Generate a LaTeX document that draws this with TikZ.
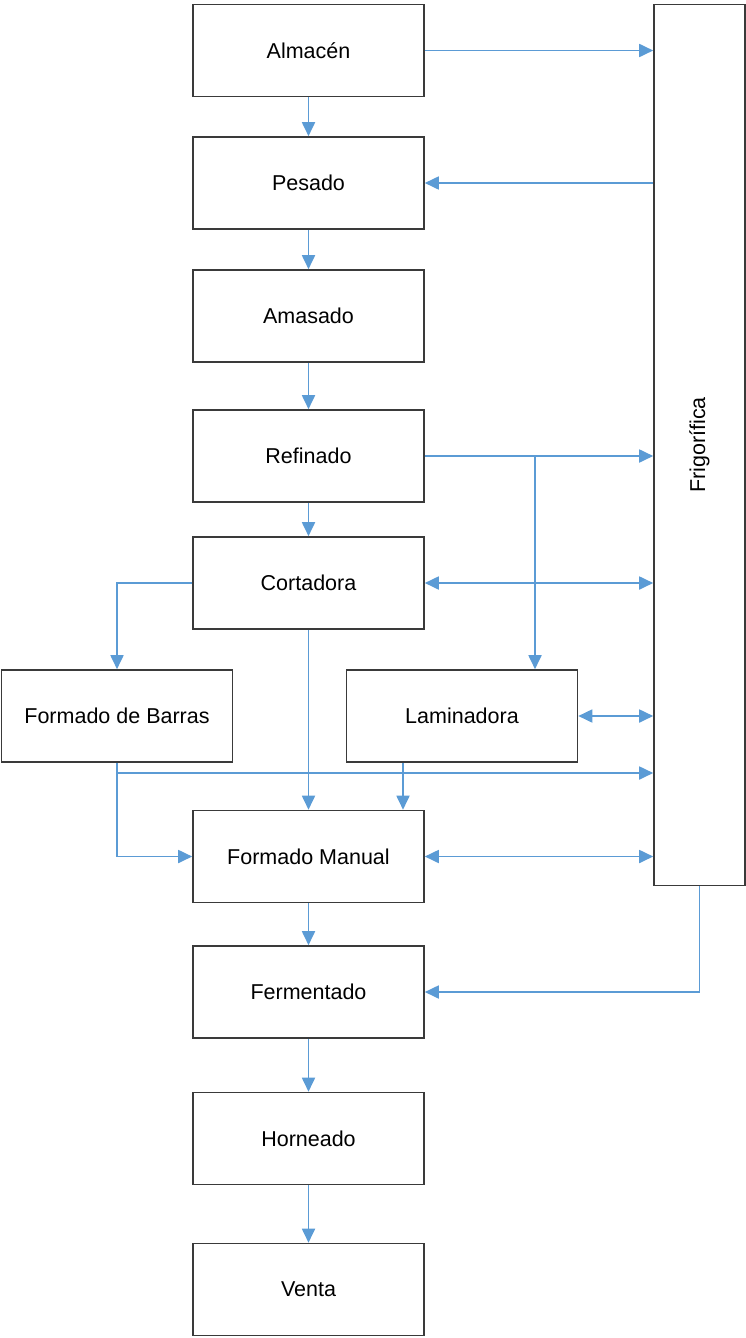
\documentclass[tikz,border=0pt]{standalone}
\usepackage{fontspec}
\setmainfont{Liberation Sans}
\usetikzlibrary{arrows.meta,calc}
\definecolor{conn}{HTML}{5B9BD5}
\definecolor{edge}{HTML}{3A3A3A}
\tikzset{
  box/.style={draw=edge,line width=1.6pt,fill=white,rectangle,inner sep=0pt,
    minimum width=231pt,minimum height=92pt,
    font=\fontsize{21.5}{25}\selectfont},
  tip/.tip={Triangle[length=14pt,width=13pt]},
  link/.style={draw=conn,line width=1.8pt,-tip},
  dlink/.style={draw=conn,line width=1.8pt,tip-tip},
  plain/.style={draw=conn,line width=1.8pt}
}
\begin{document}
\begin{tikzpicture}[x=1pt,y=-1pt]
\useasboundingbox (0,0) rectangle (746,1338);
% nodes
\node[box] (alm) at (308.5,50.5) {Almacén};
\node[box] (pes) at (308.5,183) {Pesado};
\node[box] (ama) at (308.5,316) {Amasado};
\node[box] (ref) at (308.5,456) {Refinado};
\node[box] (cor) at (308.5,583) {Cortadora};
\node[box] (fdb) at (117,716) {Formado de Barras};
\node[box] (lam) at (462,716) {Laminadora};
\node[box] (fm) at (308.5,856.5) {Formado Manual};
\node[box] (fer) at (308.5,992) {Fermentado};
\node[box] (hor) at (308.5,1138.5) {Horneado};
\node[box] (ven) at (308.5,1289.5) {Venta};
\node[box,minimum width=91pt,minimum height=881pt] (fri) at (699.5,445) {};
\node[rotate=90,font=\fontsize{21.5}{25}\selectfont] (fril) at (fri.center) {Frigorífica};
% helper coordinates
\coordinate (bj) at (535,456);
\coordinate (fj) at (117,773);
\coordinate (lb) at (403,0);
% main chain
\draw[link] (alm) -- (pes);
\draw[link] (pes) -- (ama);
\draw[link] (ama) -- (ref);
\draw[link] (ref) -- (cor);
\draw[link] (cor) -- (fm);
\draw[link] (fm) -- (fer);
\draw[link] (fer) -- (hor);
\draw[link] (hor) -- (ven);
% frigorifica links
\draw[link] (alm.east) -- (alm.east -| fri.west);
\draw[link] (pes.east -| fri.west) -- (pes.east);
\draw[link] (ref.east) -- (ref.east -| fri.west);
\draw[link] (bj) -- (bj |- lam.north);
\draw[dlink] (cor.east) -- (cor.east -| fri.west);
\draw[dlink] (lam.east) -- (lam.east -| fri.west);
\draw[dlink] (fm.east) -- (fm.east -| fri.west);
\draw[link] (fri.south -| fril) |- (fer.east);
% left branch
\draw[link] (cor.west) -| (fdb.north);
\draw[link] (fdb.south) |- (fm.west);
\draw[link] (fj) -- (fj -| fri.west);
\draw[link] (lam.south -| lb) -- (fm.north -| lb);
\end{tikzpicture}
\end{document}
